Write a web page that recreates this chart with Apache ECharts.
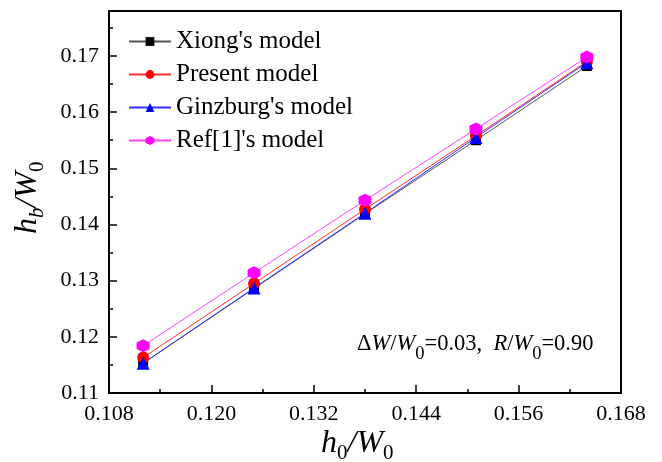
<!DOCTYPE html>
<html>
<head>
<meta charset="utf-8">
<script src="https://cdn.jsdelivr.net/npm/echarts@6/dist/echarts.min.js"></script>
<style>
  html, body { margin: 0; padding: 0; background: #fff; }
  #chart { width: 662px; height: 462px; }
</style>
</head>
<body>
<div id="chart"></div>
<script>
// h0/W0 sample positions
const h0 = [0.112, 0.125, 0.138, 0.151, 0.164];

// hb/W0 for each model
const xiong    = [0.1153, 0.1286, 0.1419, 0.1550, 0.1682];
const present  = [0.1163, 0.1295, 0.1427, 0.1558, 0.1690];
const ginzburg = [0.1153, 0.1287, 0.1420, 0.1555, 0.1688];
const ref1     = [0.1184, 0.1314, 0.1443, 0.1570, 0.1698];

const seriesNames = ["Xiong's model", "Present model", "Ginzburg's model", "Ref[1]'s model"];

const FONT = "'Liberation Serif', 'Times New Roman', serif";

function pairs(ys) { return h0.map((x, i) => [x, ys[i]]); }

const hexPath = 'path://M50,0 L93.3,25 L93.3,75 L50,100 L6.7,75 L6.7,25 Z';

const specs = [
  { name: seriesNames[0], data: xiong,    color: '#000000', symbol: 'rect',     size: 10, lineColor: '#555555' },
  { name: seriesNames[1], data: present,  color: '#ff0000', symbol: 'circle',   size: 12, lineColor: '#ff3030' },
  { name: seriesNames[2], data: ginzburg, color: '#0000ff', symbol: 'triangle', size: 13, lineColor: '#3030ff' },
  { name: seriesNames[3], data: ref1,     color: '#ff00ff', symbol: hexPath,    size: 13, lineColor: '#ff40ff' }
];

const sub = { fontFamily: FONT, fontSize: 21, color: '#000', verticalAlign: 'bottom', padding: [15, 0, 0, 0] };
const it  = { fontFamily: FONT, fontSize: 32, fontStyle: 'italic', color: '#000', verticalAlign: 'top', lineHeight: 33 };
const ann = { fontFamily: FONT, fontSize: 22.5, color: '#000', verticalAlign: 'top', lineHeight: 24 };
const annI = Object.assign({}, ann, { fontStyle: 'italic' });
const annSub = { fontFamily: FONT, fontSize: 18.5, color: '#000', verticalAlign: 'bottom', padding: [12, 0, 0, 0] };

const chart = echarts.init(document.getElementById('chart'), null, { renderer: 'canvas' });

chart.setOption({
  animation: false,
  backgroundColor: '#ffffff',
  grid: {
    left: 109, right: 41, top: 11, bottom: 69,
    show: true, borderColor: '#000', borderWidth: 2, backgroundColor: 'transparent'
  },
  legend: {
    left: 128, top: 29, orient: 'vertical', padding: 0,
    itemWidth: 42, itemHeight: 11, itemGap: 8,
    textStyle: { fontFamily: FONT, fontSize: 25, color: '#000' },
    data: seriesNames
  },
  xAxis: {
    type: 'value', min: 0.108, max: 0.168, interval: 0.012,
    axisLine: { show: true, onZero: false, lineStyle: { color: '#000', width: 2 } },
    axisTick: { show: true, inside: true, length: 8, lineStyle: { color: '#000', width: 1.5 } },
    minorTick: { show: true, splitNumber: 2, length: 4, lineStyle: { color: '#000', width: 1.5 } },
    splitLine: { show: false },
    axisLabel: {
      margin: 10, color: '#000', fontFamily: FONT, fontSize: 22,
      formatter: v => v.toFixed(3)
    }
  },
  yAxis: {
    type: 'value', min: 0.11, max: 0.178, interval: 0.01,
    axisLine: { show: true, onZero: false, lineStyle: { color: '#000', width: 2 } },
    axisTick: { show: true, inside: true, length: 8, lineStyle: { color: '#000', width: 1.5 } },
    minorTick: { show: true, splitNumber: 2, length: 4, lineStyle: { color: '#000', width: 1.5 } },
    splitLine: { show: false },
    axisLabel: {
      margin: 10, color: '#000', fontFamily: FONT, fontSize: 22, showMaxLabel: false,
      formatter: v => (Math.abs(v * 100 - Math.round(v * 100)) < 1e-6 ? v.toFixed(2) : '')
    }
  },
  series: specs.map(s => ({
    name: s.name,
    type: 'line',
    data: pairs(s.data),
    symbol: s.symbol,
    symbolSize: s.size,
    showAllSymbol: true,
    itemStyle: { color: s.color },
    lineStyle: { color: s.lineColor, width: 1 },
    z: 2
  })),
  graphic: [
    {
      type: 'text', left: 321, top: 428,
      style: {
        text: '{i|h}{s|0}{i|/W}{s|0}',
        rich: { i: it, s: sub }
      }
    },
    {
      type: 'text', x: 12, y: 234, rotation: Math.PI / 2,
      style: {
        text: '{i|h}{si|b}{i|/W}{s|0}',
        rich: { i: it, s: sub, si: Object.assign({}, sub, { fontStyle: 'italic' }) }
      }
    },
    {
      type: 'text', left: 357, top: 333,
      style: {
        text: '{n|\u0394}{i|W}{n|/}{i|W}{s|0}{n|=0.03,  }{i|R}{n|/}{i|W}{s|0}{n|=0.90}',
        rich: { n: ann, i: annI, s: annSub }
      }
    }
  ]
});
</script>
</body>
</html>
